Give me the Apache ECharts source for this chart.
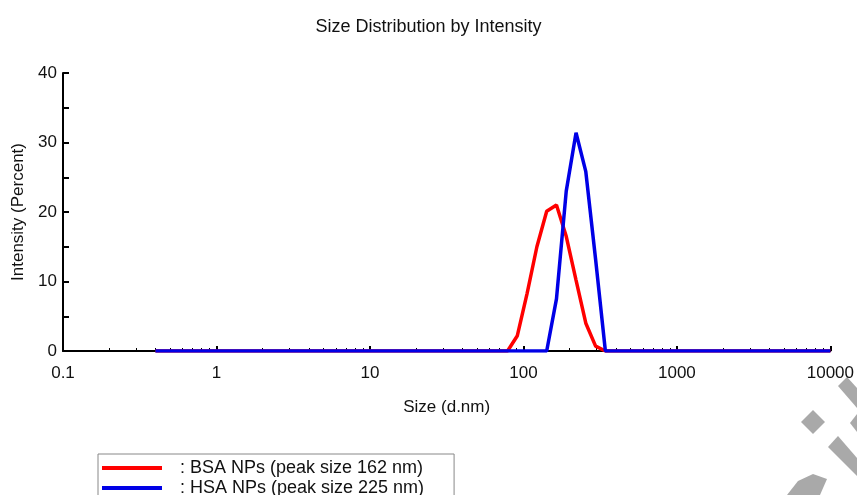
<!DOCTYPE html>
<html>
<head>
<meta charset="utf-8">
<script src="https://cdn.jsdelivr.net/npm/echarts@6/dist/echarts.min.js"></script>
<style>
html,body{margin:0;padding:0;background:#fff;}
#chart{width:857px;height:495px;}
</style>
</head>
<body>
<div id="chart"></div>
<script>
// Size bins (d.nm)
var sizes = [
  0.4, 0.4632, 0.5365, 0.6213, 0.7195, 0.8332, 0.9649, 1.117, 1.294, 1.499,
  1.736, 2.010, 2.328, 2.696, 3.122, 3.615, 4.187, 4.849, 5.615, 6.503,
  7.531, 8.721, 10.10, 11.70, 13.54, 15.69, 18.17, 21.04, 24.36, 28.21,
  32.67, 37.84, 43.82, 50.75, 58.77, 68.06, 78.82, 91.28, 105.7, 122.4,
  141.8, 164.2, 190.1, 220.2, 255.0, 295.3, 342.0, 396.1, 458.7, 531.2,
  615.1, 712.4, 825.0, 955.4, 1106, 1281, 1484, 1718, 1990, 2305,
  2669, 3091, 3580, 4145, 4801, 5560, 6439, 7456, 8635, 10000
];
// Intensity (%) – BSA NPs
var bsaIntensity = [
  0, 0, 0, 0, 0, 0, 0, 0, 0, 0,
  0, 0, 0, 0, 0, 0, 0, 0, 0, 0,
  0, 0, 0, 0, 0, 0, 0, 0, 0, 0,
  0, 0, 0, 0, 0, 0, 0, 2.2, 8.3, 15.0,
  20.1, 21.0, 16.5, 10.2, 4.0, 0.7, 0, 0, 0, 0,
  0, 0, 0, 0, 0, 0, 0, 0, 0, 0,
  0, 0, 0, 0, 0, 0, 0, 0, 0, 0
];
// Intensity (%) – HSA NPs
var hsaIntensity = [
  0, 0, 0, 0, 0, 0, 0, 0, 0, 0,
  0, 0, 0, 0, 0, 0, 0, 0, 0, 0,
  0, 0, 0, 0, 0, 0, 0, 0, 0, 0,
  0, 0, 0, 0, 0, 0, 0, 0, 0, 0,
  0, 7.5, 23.0, 31.4, 25.8, 13.2, 0, 0, 0, 0,
  0, 0, 0, 0, 0, 0, 0, 0, 0, 0,
  0, 0, 0, 0, 0, 0, 0, 0, 0, 0
];
var seriesNames = ['BSA NPs (peak size 162 nm)', 'HSA NPs (peak size 225 nm)'];
var titleText = 'Size Distribution by Intensity';
var xAxisName = 'Size (d.nm)';
var yAxisName = 'Intensity (Percent)';

function pairs(xs, ys) {
  return xs.map(function (x, i) { return [x, ys[i]]; });
}

var FONT = '"Liberation Sans", Arial, sans-serif';
var chart = echarts.init(document.getElementById('chart'), null, {renderer: 'canvas'});
chart.setOption({
  animation: false,
  backgroundColor: '#ffffff',
  title: {
    text: titleText, left: 'center', top: 13,
    textStyle: {fontFamily: FONT, fontSize: 18, fontWeight: 'normal', color: '#111'}
  },
  grid: {left: 63, right: 26, top: 73, bottom: 144, containLabel: false},
  legend: {
    orient: 'vertical', left: 98, top: 454, height: 120, width: 360,
    padding: [5, 30, 20, 4],
    itemWidth: 60, itemHeight: 4, itemGap: 2,
    icon: 'rect',
    borderColor: '#888', borderWidth: 1,
    formatter: ': {name}',
    textStyle: {fontFamily: FONT, fontSize: 18, color: '#111', padding: [0, 0, 0, 13]},
    data: seriesNames
  },
  xAxis: {
    type: 'log', logBase: 10, min: 0.1, max: 10000,
    name: xAxisName, nameLocation: 'middle', nameGap: 48,
    nameTextStyle: {fontFamily: FONT, fontSize: 17, color: '#111'},
    axisLine: {show: true, lineStyle: {color: '#000', width: 2}},
    axisTick: {show: true, inside: true, length: 5, lineStyle: {color: '#000', width: 2}},
    minorTick: {show: true, splitNumber: 9, length: 3, lineStyle: {color: '#000', width: 1}},
    axisLabel: {fontFamily: FONT, fontSize: 17, color: '#111', margin: 14,
      formatter: function (v) { return String(+v.toPrecision(6)); }},
    splitLine: {show: false}, minorSplitLine: {show: false}
  },
  yAxis: {
    type: 'value', min: 0, max: 40, interval: 10,
    name: yAxisName, nameLocation: 'middle', nameGap: 36,
    nameTextStyle: {fontFamily: FONT, fontSize: 17, color: '#111'},
    axisLine: {show: true, lineStyle: {color: '#000', width: 2}},
    axisTick: {show: true, inside: true, length: 6, lineStyle: {color: '#000', width: 2}},
    minorTick: {show: true, splitNumber: 2, length: 6, lineStyle: {color: '#000', width: 2}},
    axisLabel: {fontFamily: FONT, fontSize: 17, color: '#111', margin: 6},
    splitLine: {show: false}
  },
  series: [
    {
      name: seriesNames[0], type: 'line', data: pairs(sizes, bsaIntensity),
      showSymbol: false, symbol: 'none', color: '#ff0000',
      lineStyle: {color: '#ff0000', width: 3.5}, z: 3
    },
    {
      name: seriesNames[1], type: 'line', data: pairs(sizes, hsaIntensity),
      showSymbol: false, symbol: 'none', color: '#0000e6',
      lineStyle: {color: '#0000e6', width: 3.5}, z: 4
    }
  ],
  graphic: [
    {type: 'polygon', silent: true, shape: {points: [[838, 386], [847, 377], [857, 388], [857, 408]]}, style: {fill: '#a9a9a9'}},
    {type: 'polygon', silent: true, shape: {points: [[813, 410], [825, 422], [813, 434], [801, 422]]}, style: {fill: '#a9a9a9'}},
    {type: 'polygon', silent: true, shape: {points: [[857, 414], [850, 423], [857, 432]]}, style: {fill: '#a9a9a9'}},
    {type: 'polygon', silent: true, shape: {points: [[828, 447], [838, 436], [857, 458], [857, 476]]}, style: {fill: '#a9a9a9'}},
    {type: 'polygon', silent: true, shape: {points: [[787, 495], [798, 481], [813, 474], [827, 479], [820, 495]]}, style: {fill: '#a9a9a9'}}
  ]
});
</script>
</body>
</html>
